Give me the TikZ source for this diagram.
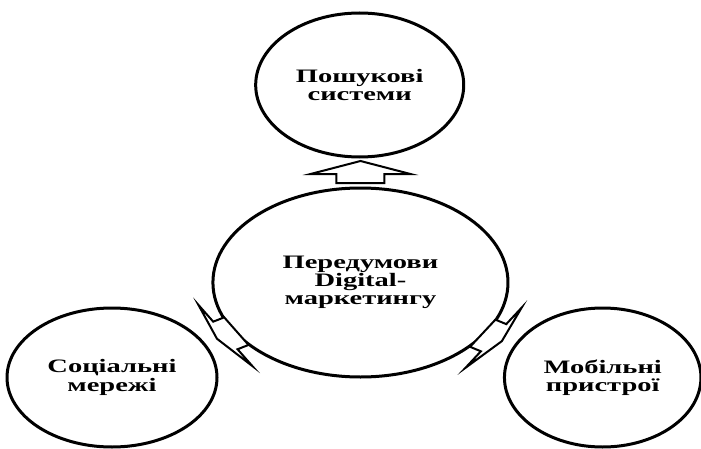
\documentclass[tikz,border=0pt]{standalone}
\usepackage{fontspec}
\setmainfont{Liberation Serif}
\usetikzlibrary{shapes.geometric}
\begin{document}
\begin{tikzpicture}[x=1pt,y=1pt,xscale=1.5,transform shape,
  bubble/.style={ellipse,draw=black,line width=3pt,fill=white,inner sep=0pt,
    align=center,font=\fontsize{19}{18.3}\selectfont\bfseries},
  blockarrow/.style={draw=black,fill=white,line width=2pt,line join=miter,miter limit=20}]
\useasboundingbox (0,0) rectangle (467.33,448);
\node[bubble,minimum width=138.7pt,minimum height=144pt] (t) at (239.8,363) {Пошукові\\системи};
\node[bubble,minimum width=196.7pt,minimum height=189pt] (c) at (240.3,165.5) {Передумови\\Digital-\\маркетингу};
\node[bubble,minimum width=140pt,minimum height=139pt] (l) at (74.67,70.5) {Соціальні\\мережі};
\node[bubble,minimum width=131pt,minimum height=139pt] (r) at (401.8,70.5) {Мобільні\\пристрої};
% top arrow
\begin{scope}[shift={(c.center)},rotate=90]
  \draw[blockarrow] (99.5,-16) -- (108.5,-16) -- (108.5,-33.3) -- (121.5,0)
    -- (108.5,33.3) -- (108.5,16) -- (99.5,16) -- cycle;
\end{scope}
% left arrow
\begin{scope}[shift={(c.center)},rotate=210.45]
  \draw[blockarrow] (96,-16) -- (104.5,-16) -- (104.5,-35.5) -- (111,0)
    -- (104.5,35.5) -- (104.5,16) -- (96,16) -- cycle;
\end{scope}
% right arrow
\begin{scope}[shift={(c.center)},rotate=-31.9]
  \draw[blockarrow] (96,-16) -- (104.5,-16) -- (104.5,-35.5) -- (111,0)
    -- (104.5,35.5) -- (104.5,16) -- (96,16) -- cycle;
\end{scope}
\end{tikzpicture}
\end{document}
